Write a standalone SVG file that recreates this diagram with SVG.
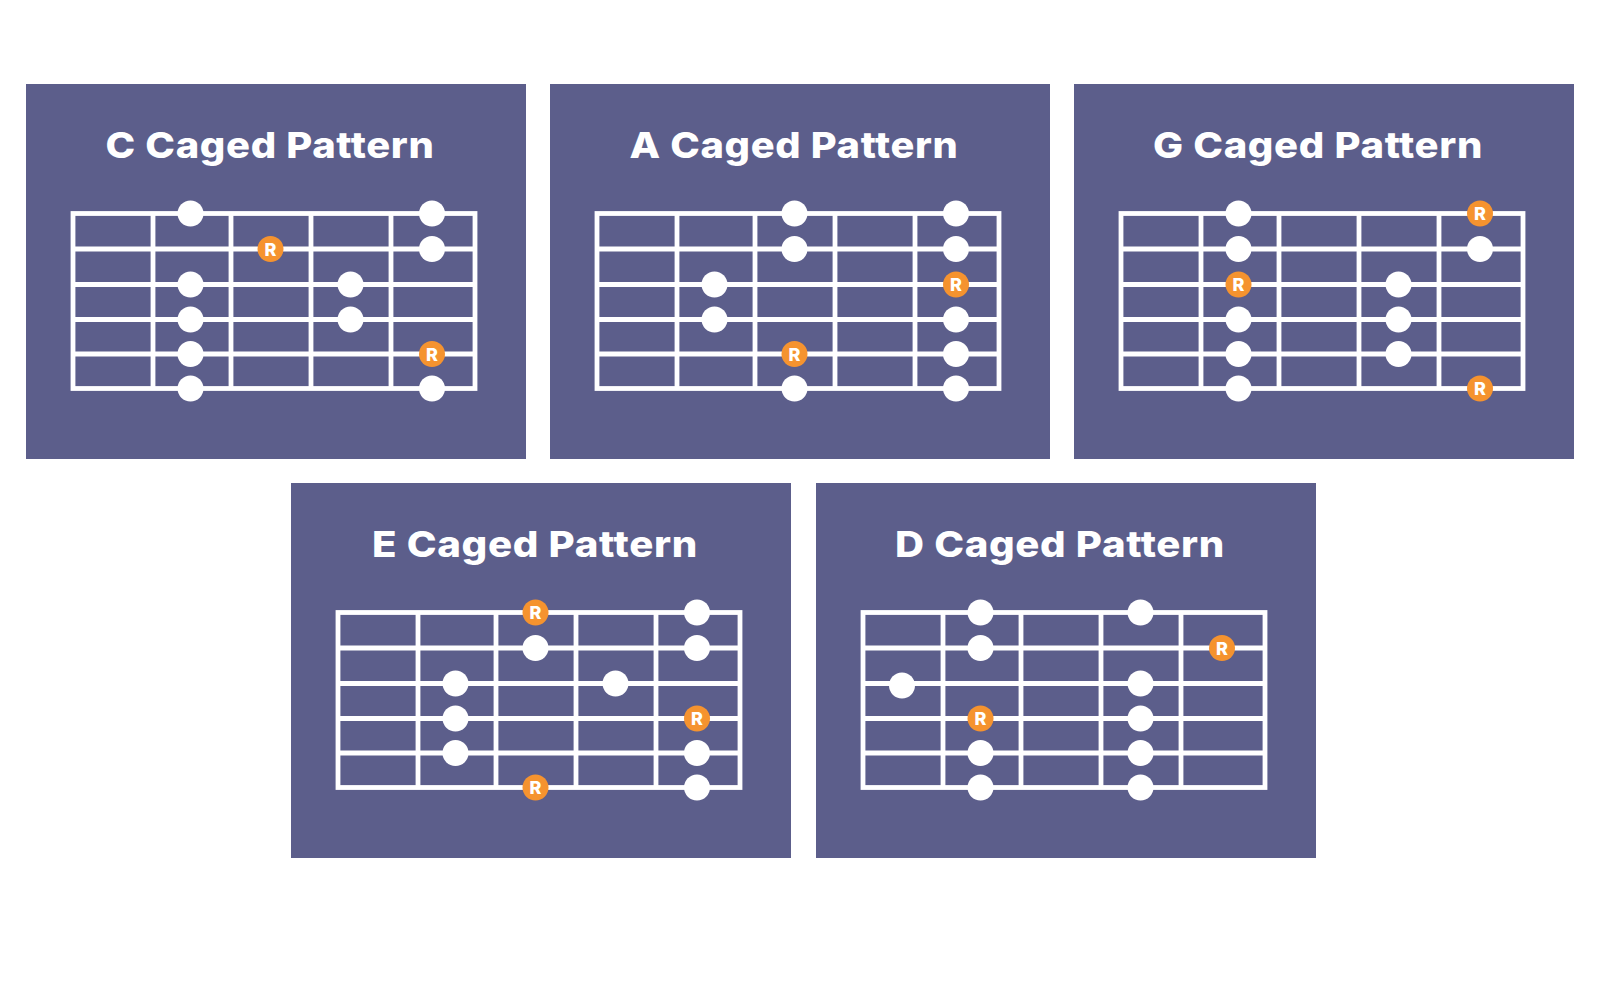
<svg xmlns="http://www.w3.org/2000/svg" xmlns:xlink="http://www.w3.org/1999/xlink" width="1600" height="1000" viewBox="0 0 1600 1000">
<style>
.panel{fill:#5c5e8b}
.title{font-family:Inter,"Noto Sans","Liberation Sans",sans-serif;font-weight:800;font-size:36px;fill:#ffffff;text-anchor:middle;letter-spacing:0.6px}
.grid{fill:none;stroke:#ffffff;stroke-width:4.8}
.dot{fill:#ffffff}
.root{fill:#f5932f}
.rt{font-family:Inter,"Liberation Sans",sans-serif;font-weight:800;font-size:18px;fill:#ffffff;text-anchor:middle}
</style>
<defs>
<g id="fret">
<rect class="grid" x="47" y="129.5" width="402" height="175"/>
<path class="grid" d="M127 129.5V304.5M205 129.5V304.5M285 129.5V304.5M365 129.5V304.5M47 165H449M47 200.5H449M47 235.5H449M47 270H449"/>
</g>
<g id="r"><circle class="root" r="13"/><text class="rt" y="6.5">R</text></g>
</defs>
<rect width="1600" height="1000" fill="#ffffff"/>

<g id="c-pattern" transform="translate(26,84)">
<rect class="panel" width="500" height="375"/>
<text class="title" x="244" y="73.5" textLength="329" lengthAdjust="spacingAndGlyphs">C Caged Pattern</text>
<use xlink:href="#fret"/>
<circle class="dot" cx="164.5" cy="129.5" r="13"/><circle class="dot" cx="164.5" cy="200.5" r="13"/><circle class="dot" cx="164.5" cy="235.5" r="13"/><circle class="dot" cx="164.5" cy="270" r="13"/><circle class="dot" cx="164.5" cy="304.5" r="13"/>
<use xlink:href="#r" x="244.5" y="165"/>
<circle class="dot" cx="324.5" cy="200.5" r="13"/><circle class="dot" cx="324.5" cy="235.5" r="13"/>
<circle class="dot" cx="406" cy="129.5" r="13"/><circle class="dot" cx="406" cy="165" r="13"/><use xlink:href="#r" x="406" y="270"/><circle class="dot" cx="406" cy="304.5" r="13"/>
</g>

<g id="a-pattern" transform="translate(550,84)">
<rect class="panel" width="500" height="375"/>
<text class="title" x="244" y="73.5" textLength="329" lengthAdjust="spacingAndGlyphs">A Caged Pattern</text>
<use xlink:href="#fret"/>
<circle class="dot" cx="164.5" cy="200.5" r="13"/><circle class="dot" cx="164.5" cy="235.5" r="13"/>
<circle class="dot" cx="244.5" cy="129.5" r="13"/><circle class="dot" cx="244.5" cy="165" r="13"/><use xlink:href="#r" x="244.5" y="270"/><circle class="dot" cx="244.5" cy="304.5" r="13"/>
<circle class="dot" cx="406" cy="129.5" r="13"/><circle class="dot" cx="406" cy="165" r="13"/><use xlink:href="#r" x="406" y="200.5"/><circle class="dot" cx="406" cy="235.5" r="13"/><circle class="dot" cx="406" cy="270" r="13"/><circle class="dot" cx="406" cy="304.5" r="13"/>
</g>

<g id="g-pattern" transform="translate(1074,84)">
<rect class="panel" width="500" height="375"/>
<text class="title" x="244" y="73.5" textLength="330" lengthAdjust="spacingAndGlyphs">G Caged Pattern</text>
<use xlink:href="#fret"/>
<circle class="dot" cx="164.5" cy="129.5" r="13"/><circle class="dot" cx="164.5" cy="165" r="13"/><use xlink:href="#r" x="164.5" y="200.5"/><circle class="dot" cx="164.5" cy="235.5" r="13"/><circle class="dot" cx="164.5" cy="270" r="13"/><circle class="dot" cx="164.5" cy="304.5" r="13"/>
<circle class="dot" cx="324.5" cy="200.5" r="13"/><circle class="dot" cx="324.5" cy="235.5" r="13"/><circle class="dot" cx="324.5" cy="270" r="13"/>
<use xlink:href="#r" x="406" y="129.5"/><circle class="dot" cx="406" cy="165" r="13"/><use xlink:href="#r" x="406" y="304.5"/>
</g>

<g id="e-pattern" transform="translate(291,483)">
<rect class="panel" width="500" height="375"/>
<text class="title" x="244" y="73.5" textLength="326" lengthAdjust="spacingAndGlyphs">E Caged Pattern</text>
<use xlink:href="#fret"/>
<circle class="dot" cx="164.5" cy="200.5" r="13"/><circle class="dot" cx="164.5" cy="235.5" r="13"/><circle class="dot" cx="164.5" cy="270" r="13"/>
<use xlink:href="#r" x="244.5" y="129.5"/><circle class="dot" cx="244.5" cy="165" r="13"/><use xlink:href="#r" x="244.5" y="304.5"/>
<circle class="dot" cx="324.5" cy="200.5" r="13"/>
<circle class="dot" cx="406" cy="129.5" r="13"/><circle class="dot" cx="406" cy="165" r="13"/><use xlink:href="#r" x="406" y="235.5"/><circle class="dot" cx="406" cy="270" r="13"/><circle class="dot" cx="406" cy="304.5" r="13"/>
</g>

<g id="d-pattern" transform="translate(816,483)">
<rect class="panel" width="500" height="375"/>
<text class="title" x="244" y="73.5" textLength="330" lengthAdjust="spacingAndGlyphs">D Caged Pattern</text>
<use xlink:href="#fret"/>
<circle class="dot" cx="86" cy="202.5" r="13"/>
<circle class="dot" cx="164.5" cy="129.5" r="13"/><circle class="dot" cx="164.5" cy="165" r="13"/><use xlink:href="#r" x="164.5" y="235.5"/><circle class="dot" cx="164.5" cy="270" r="13"/><circle class="dot" cx="164.5" cy="304.5" r="13"/>
<circle class="dot" cx="324.5" cy="129.5" r="13"/><circle class="dot" cx="324.5" cy="200.5" r="13"/><circle class="dot" cx="324.5" cy="235.5" r="13"/><circle class="dot" cx="324.5" cy="270" r="13"/><circle class="dot" cx="324.5" cy="304.5" r="13"/>
<use xlink:href="#r" x="406" y="165"/>
</g>
</svg>
